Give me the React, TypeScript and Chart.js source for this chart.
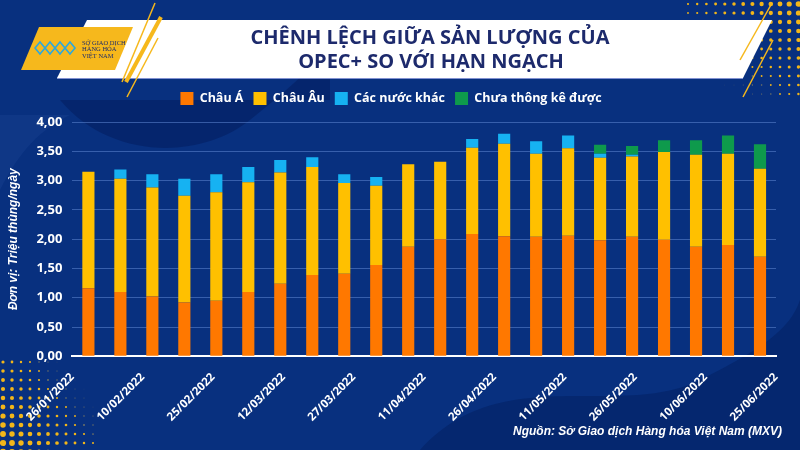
import React, { useEffect, useRef } from "react";
import { Chart, registerables } from "chart.js";

Chart.register(...registerables);

// Bar categories (22 periods; only every other date is labelled on the axis)
const categories = ["1", "2", "3", "4", "5", "6", "7", "8", "9", "10", "11", "12", "13", "14", "15", "16", "17", "18", "19", "20", "21", "22"];
const dateTicks = ["26/01/2022", "10/02/2022", "25/02/2022", "12/03/2022", "27/03/2022", "11/04/2022", "26/04/2022", "11/05/2022", "26/05/2022", "10/06/2022", "25/06/2022"];
const yTicks = [0, 0.5, 1, 1.5, 2, 2.5, 3, 3.5, 4];

const chauA = [1.16, 1.10, 1.02, 0.92, 0.95, 1.10, 1.24, 1.39, 1.41, 1.56, 1.87, 2.00, 2.09, 2.05, 2.04, 2.06, 1.98, 2.04, 1.99, 1.87, 1.90, 1.70];
const chauAu = [1.99, 1.93, 1.86, 1.82, 1.85, 1.87, 1.90, 1.84, 1.55, 1.35, 1.41, 1.32, 1.47, 1.58, 1.42, 1.49, 1.41, 1.37, 1.50, 1.57, 1.56, 1.50];
const nuocKhac = [0, 0.16, 0.23, 0.29, 0.31, 0.26, 0.21, 0.17, 0.15, 0.15, 0, 0, 0.15, 0.17, 0.21, 0.22, 0.07, 0.03, 0, 0, 0, 0];
const chuaThongKe = [0, 0, 0, 0, 0, 0, 0, 0, 0, 0, 0, 0, 0, 0, 0, 0, 0.15, 0.15, 0.20, 0.25, 0.31, 0.42];

const seriesNames = ["Châu Á", "Châu Âu", "Các nước khác", "Chưa thông kê được"];
const seriesColors = ["#FF7800", "#FFC000", "#16B2F2", "#0E9A4C"];

const titleLines = ["CHÊNH LỆCH GIỮA SẢN LƯỢNG CỦA", "OPEC+ SO VỚI HẠN NGẠCH"];
const yTitle = "Đơn vị: Triệu thùng/ngày";
const sourceText = "Nguồn: Sở Giao dịch Hàng hóa Việt Nam (MXV)";
const logoLines = ["SỞ GIAO DỊCH", "HÀNG HÓA", "VIỆT NAM"];

const legendGapPlugin = {
  id: "legendGap",
  beforeInit(chart: any) {
    const legend = chart.legend;
    if (!legend) return;
    const orig = legend.fit;
    legend.fit = function () {
      orig.call(this);
      this.height += 7;
    };
  },
};

const decorPlugin = {
  id: "decor",
  beforeDraw(chart: any) {
    const ctx = chart.ctx as CanvasRenderingContext2D;
    const W = chart.width, H = chart.height;
    ctx.save();
    ctx.fillStyle = "#08307F";
    ctx.fillRect(0, 0, W, H);
    ctx.fillStyle = "rgba(3,30,95,0.55)";
    ctx.beginPath();
    ctx.moveTo(60, 100);
    ctx.bezierCurveTo(110, 160, 200, 160, 250, 120);
    ctx.bezierCurveTo(300, 80, 320, 60, 330, 40);
    ctx.lineTo(330, 100);
    ctx.closePath();
    ctx.fill();
    ctx.fillStyle = "rgba(4,34,100,0.6)";
    ctx.beginPath();
    ctx.moveTo(420, 450);
    ctx.bezierCurveTo(500, 360, 620, 420, 700, 380);
    ctx.bezierCurveTo(760, 350, 790, 330, 800, 300);
    ctx.lineTo(800, 450);
    ctx.closePath();
    ctx.fill();
    ctx.fillStyle = "rgba(30,70,150,0.35)";
    ctx.beginPath();
    ctx.moveTo(0, 190);
    ctx.bezierCurveTo(20, 150, 40, 130, 70, 115);
    ctx.lineTo(0, 115);
    ctx.closePath();
    ctx.fill();

    for (let gx = 0; gx < 14; gx++) {
      for (let gy = 0; gy < 11; gy++) {
        const x = 688 + gx * 9.2;
        const y = 4 + gy * 9;
        const t = (gx / 13) * 0.7 + (1 - gy / 10) * 0.6;
        const r = Math.max(0, 2.6 * t - 0.5);
        if (r <= 0.2) continue;
        ctx.fillStyle = t > 0.5 ? "#F2B619" : "rgba(200,170,80,0.6)";
        ctx.beginPath();
        ctx.arc(x, y, r, 0, Math.PI * 2);
        ctx.fill();
      }
    }
    for (let gx = 0; gx < 11; gx++) {
      for (let gy = 0; gy < 11; gy++) {
        const x = 3 + gx * 9;
        const y = 362 + gy * 9;
        const t = (1 - gx / 10) * 0.75 + (gy / 10) * 0.6;
        const r = Math.max(0, 2.8 * t - 0.5);
        if (r <= 0.2) continue;
        ctx.fillStyle = t > 0.5 ? "#F2B619" : "rgba(200,170,80,0.6)";
        ctx.beginPath();
        ctx.arc(x, y, r, 0, Math.PI * 2);
        ctx.fill();
      }
    }

    ctx.fillStyle = "#FFFFFF";
    ctx.beginPath();
    ctx.moveTo(87, 20);
    ctx.lineTo(772, 20);
    ctx.lineTo(743, 78);
    ctx.lineTo(57, 78);
    ctx.closePath();
    ctx.fill();
    ctx.strokeStyle = "rgba(160,170,230,0.8)";
    ctx.lineWidth = 1;
    ctx.beginPath();
    ctx.moveTo(57, 78.5);
    ctx.lineTo(743, 78.5);
    ctx.stroke();

    ctx.fillStyle = "#F6B81C";
    ctx.beginPath();
    ctx.moveTo(39, 27);
    ctx.lineTo(133, 27);
    ctx.lineTo(115, 70);
    ctx.lineTo(21, 70);
    ctx.closePath();
    ctx.fill();
    ctx.strokeStyle = "#2BA7DF";
    ctx.lineWidth = 1.6;
    for (let i = 0; i < 4; i++) {
      const cx = 40 + i * 10;
      ctx.beginPath();
      ctx.moveTo(cx - 5, 48);
      ctx.lineTo(cx, 42);
      ctx.lineTo(cx + 5, 48);
      ctx.lineTo(cx, 54);
      ctx.closePath();
      ctx.stroke();
    }
    ctx.fillStyle = "#1D2C6B";
    ctx.font = "6.5px 'Liberation Serif'";
    ctx.textAlign = "left";
    ctx.textBaseline = "middle";
    logoLines.forEach((l, i) => ctx.fillText(l, 82, 43 + i * 6.5));

    ctx.strokeStyle = "#F6B81C";
    ctx.lineWidth = 1.5;
    ctx.beginPath(); ctx.moveTo(155, 3); ctx.lineTo(122, 82); ctx.stroke();
    ctx.beginPath(); ctx.moveTo(158, 38); ctx.lineTo(127, 97); ctx.stroke();
    ctx.lineWidth = 4;
    ctx.beginPath(); ctx.moveTo(161, 17); ctx.lineTo(126, 82); ctx.stroke();
    ctx.lineWidth = 1.5;
    ctx.beginPath(); ctx.moveTo(772, 3); ctx.lineTo(740, 60); ctx.stroke();
    ctx.beginPath(); ctx.moveTo(773, 40); ctx.lineTo(743, 97); ctx.stroke();

    ctx.fillStyle = "#1D2A6C";
    ctx.font = "bold 20px 'Open Sans'";
    ctx.textAlign = "center";
    ctx.textBaseline = "middle";
    ctx.fillText(titleLines[0], 430, 38);
    ctx.fillText(titleLines[1], 431, 62);
    ctx.restore();
  },
  afterDraw(chart: any) {
    const ctx = chart.ctx as CanvasRenderingContext2D;
    ctx.save();
    ctx.fillStyle = "#FFFFFF";
    ctx.font = "italic bold 12px 'Liberation Sans'";
    ctx.textAlign = "right";
    ctx.textBaseline = "middle";
    ctx.fillText(sourceText, 782, 432);
    ctx.restore();
  },
};

export default function App() {
  const ref = useRef<HTMLCanvasElement | null>(null);
  useEffect(() => {
    if (!ref.current) return;
    const seriesData = [chauA, chauAu, nuocKhac, chuaThongKe];
    const chart = new Chart(ref.current, {
      type: "bar",
      data: {
        labels: categories,
        datasets: seriesNames.map((name, i) => ({
          label: name,
          data: seriesData[i],
          backgroundColor: seriesColors[i],
          borderWidth: 0,
          barPercentage: 0.38,
          categoryPercentage: 1,
        })),
      },
      options: {
        responsive: false,
        animation: false,
        layout: { padding: { top: 82, left: 6, right: 24, bottom: 12 } },
        plugins: {
          tooltip: { enabled: false },
          legend: {
            position: "top",
            align: "center",
            labels: {
              color: "#FFFFFF",
              boxWidth: 13,
              boxHeight: 13,
              padding: 10,
              font: { family: "'Open Sans'", size: 12.5, weight: "bold" },
            },
          },
        },
        scales: {
          x: {
            display: false,
            stacked: true,
            offset: true,
          },
          x2: {
            type: "category",
            labels: dateTicks,
            position: "bottom",
            offset: false,
            grid: { display: false, drawTicks: false },
            border: { display: true, color: "#FFFFFF", width: 2 },
            ticks: {
              color: "#FFFFFF",
              autoSkip: false,
              maxRotation: 45,
              minRotation: 45,
              padding: 14,
              font: { family: "'Open Sans'", size: 11.5, weight: "bold" },
            },
          },
          y: {
            stacked: true,
            min: 0,
            max: 4,
            afterBuildTicks: (scale: any) => {
              scale.ticks = yTicks.map((v) => ({ value: v }));
            },
            grid: { color: "rgba(95,135,210,0.55)", drawTicks: false, lineWidth: 1 },
            border: { display: false },
            ticks: {
              color: "#FFFFFF",
              padding: 10,
              font: { family: "'Open Sans'", size: 13, weight: "bold" },
              callback: (v: any) => Number(v).toFixed(2).replace(".", ","),
            },
            title: {
              display: true,
              text: yTitle,
              color: "#FFFFFF",
              padding: { top: 0, bottom: 6 },
              font: { family: "'Liberation Sans'", size: 12, weight: "bold", style: "italic" },
            },
          },
        },
      } as any,
      plugins: [legendGapPlugin, decorPlugin],
    });
    return () => chart.destroy();
  }, []);
  return (
    <div style={{ position: "fixed", left: 0, top: 0, width: 800, height: 450 }}>
      <canvas ref={ref} width={800} height={450} style={{ display: "block" }} />
    </div>
  );
}
